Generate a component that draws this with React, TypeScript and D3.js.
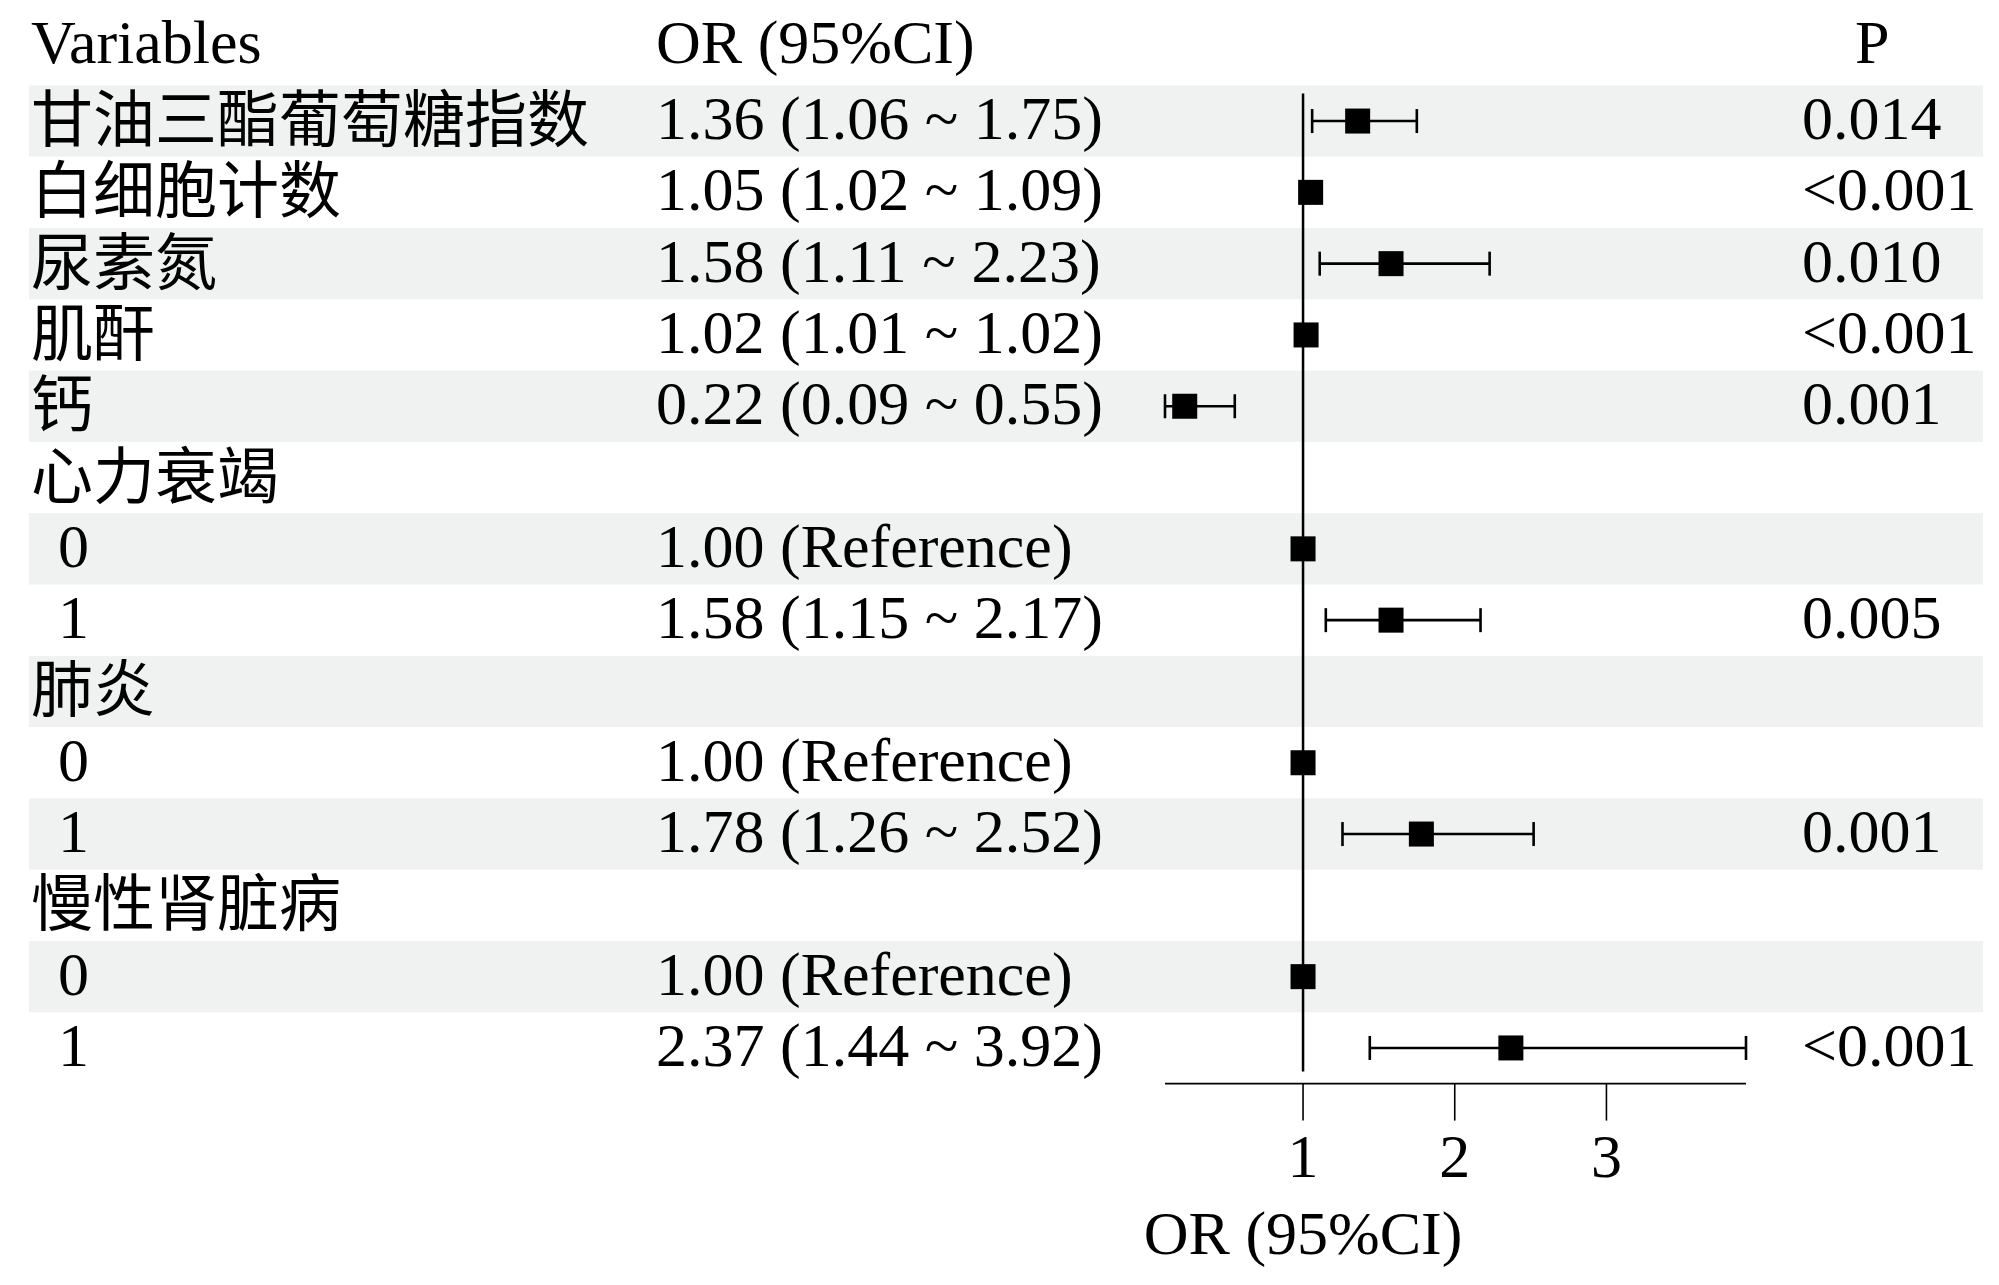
import React from "react";
import * as d3 from "d3";

const variables = ["甘油三酯葡萄糖指数", "白细胞计数", "尿素氮", "肌酐", "钙", "心力衰竭", "0", "1", "肺炎", "0", "1", "慢性肾脏病", "0", "1"];
const levels = [0, 0, 0, 0, 0, 0, 1, 1, 0, 1, 1, 0, 1, 1];
const orValues: (number | null)[] = [1.36, 1.05, 1.58, 1.02, 0.22, null, 1.0, 1.58, null, 1.0, 1.78, null, 1.0, 2.37];
const lowerCI: (number | null)[] = [1.06, 1.02, 1.11, 1.01, 0.09, null, null, 1.15, null, null, 1.26, null, null, 1.44];
const upperCI: (number | null)[] = [1.75, 1.09, 2.23, 1.02, 0.55, null, null, 2.17, null, null, 2.52, null, null, 3.92];
const isReference = [false, false, false, false, false, false, true, false, false, true, false, false, true, false];
const pValues = ["0.014", "<0.001", "0.010", "<0.001", "0.001", "", "", "0.005", "", "", "0.001", "", "", "<0.001"];
const headers = ["Variables", "OR (95%CI)", "P"];
const xTicks = [1, 2, 3];
const xLabel = "OR (95%CI)";

const W = 1999;
const H = 1285;
const LATIN = "'Liberation Serif', 'Times New Roman', serif";
const CJK = "'Liberation Serif', 'Noto Sans CJK SC', serif";
const STRIPE = "#eff2f1";
const FS = 62;

export default function App() {
  const n = variables.length;
  const rowH = 71.3;
  const top = 85.4;
  const y = d3.scaleBand<number>().domain(d3.range(n)).range([top, top + n * rowH]).padding(0);

  const lows = lowerCI.filter((v): v is number => v != null);
  const highs = upperCI.filter((v): v is number => v != null);
  const x = d3
    .scaleLinear()
    .domain([d3.min(lows) as number, d3.max(highs) as number])
    .range([1165, 1746]);

  const colX = { var: 31, or: 656, p: 1802 };
  const boxSize = 25;
  const capH = 12;
  const axisY = top + n * rowH;

  const orText = (i: number) => {
    const o = orValues[i];
    if (o == null) return "";
    if (isReference[i]) return `${o.toFixed(2)} (Reference)`;
    return `${o.toFixed(2)} (${(lowerCI[i] as number).toFixed(2)} ~ ${(upperCI[i] as number).toFixed(2)})`;
  };

  const hasCJK = (s: string) => /[\u4e00-\u9fff]/.test(s);

  return (
    <svg width={W} height={H} style={{ position: "absolute", left: 0, top: 0, background: "#fff" }}>
      <rect x={0} y={0} width={W} height={H} fill="#ffffff" />
      {d3.range(n).map((i) =>
        i % 2 === 0 ? (
          <rect key={"s" + i} x={29} y={y(i)} width={1983 - 29} height={y.bandwidth()} fill={STRIPE} />
        ) : null
      )}
      <text x={colX.var} y={63} fontFamily={LATIN} fontSize={FS} fill="#000">{headers[0]}</text>
      <text x={colX.or} y={63} fontFamily={LATIN} fontSize={FS} fill="#000">{headers[1]}</text>
      <text x={1855} y={63} fontFamily={LATIN} fontSize={FS} fill="#000">{headers[2]}</text>
      {d3.range(n).map((i) => {
        const cy = (y(i) as number) + y.bandwidth() / 2;
        const lab = variables[i];
        const cjk = hasCJK(lab);
        return (
          <g key={"t" + i}>
            <text
              x={colX.var + levels[i] * 27}
              y={cjk ? cy + 21 : cy + 18}
              fontFamily={cjk ? CJK : LATIN}
              fontSize={FS}
              fill="#000"
            >
              {lab}
            </text>
            <text x={colX.or} y={cy + 18} fontFamily={LATIN} fontSize={FS} fill="#000">
              {orText(i)}
            </text>
            <text x={colX.p} y={cy + 18} fontFamily={LATIN} fontSize={FS} fill="#000">
              {pValues[i]}
            </text>
          </g>
        );
      })}
      <line x1={x(1)} x2={x(1)} y1={top + 8} y2={axisY - 12} stroke="#000" strokeWidth={2.5} />
      {d3.range(n).map((i) => {
        const o = orValues[i];
        if (o == null) return null;
        const cy = (y(i) as number) + y.bandwidth() / 2;
        const lo = lowerCI[i];
        const hi = upperCI[i];
        return (
          <g key={"f" + i}>
            {lo != null && hi != null && (
              <g stroke="#000" strokeWidth={2.6}>
                <line x1={x(lo)} x2={x(hi)} y1={cy} y2={cy} />
                <line x1={x(lo)} x2={x(lo)} y1={cy - capH} y2={cy + capH} />
                <line x1={x(hi)} x2={x(hi)} y1={cy - capH} y2={cy + capH} />
              </g>
            )}
            <rect x={x(o) - boxSize / 2} y={cy - boxSize / 2} width={boxSize} height={boxSize} fill="#000" />
          </g>
        );
      })}
      <line x1={x.range()[0]} x2={x.range()[1]} y1={axisY} y2={axisY} stroke="#000" strokeWidth={1.6} />
      {xTicks.map((t) => (
        <g key={"tk" + t}>
          <line x1={x(t)} x2={x(t)} y1={axisY} y2={axisY + 37} stroke="#000" strokeWidth={1.6} />
          <text x={x(t)} y={1177} textAnchor="middle" fontFamily={LATIN} fontSize={FS} fill="#000">
            {t}
          </text>
        </g>
      ))}
      <text x={x(1)} y={1254} textAnchor="middle" fontFamily={LATIN} fontSize={FS} fill="#000">
        {xLabel}
      </text>
    </svg>
  );
}
